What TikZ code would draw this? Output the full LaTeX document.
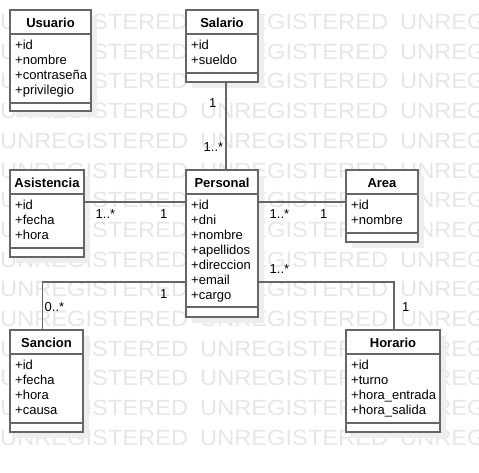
\documentclass[tikz,border=0pt]{standalone}
\usepackage{fontspec}
\setmainfont{Liberation Sans}
\definecolor{wm}{HTML}{E6E6E6}
\definecolor{shd}{HTML}{EEEEEE}
\definecolor{ln}{HTML}{666666}
\tikzset{
  wmark/.style={anchor=base west, inner sep=0pt, text=wm, font=\fontsize{22}{22}\selectfont},
  classbox/.style={draw=ln, line width=1.6pt, fill=white, inner sep=0pt, outer sep=0pt, anchor=north west},
  divider/.style={draw=ln, line width=1.6pt},
  ctitle/.style={anchor=base, inner sep=0pt, font=\fontsize{13}{15}\selectfont\bfseries},
  cattr/.style={anchor=base west, inner sep=0pt, font=\fontsize{13}{15}\selectfont},
  conn/.style={draw=ln, line width=1.6pt},
  mult/.style={anchor=base west, inner sep=0pt, font=\fontsize{13}{15}\selectfont},
}
\newcommand\umlcls[8]{%
  \fill[shd] (#2+6,#3+6) rectangle ++(#4,#5);
  \node[classbox, minimum width=#4pt, minimum height=#5pt] (#1) at (#2,#3) {};
  \draw[divider] (#2,#3+24) -- ++(#4,0);
  \draw[divider] (#2,#3+#6) -- ++(#4,0);
  \node[ctitle] (#1-title) at (#2+#4/2,#3+17) {#7};
  \foreach \a [count=\i] in {#8} \node[cattr] (#1-a\i) at (#2+5,#3+24.5+15*\i) {\a};
}
\begin{document}
\begin{tikzpicture}[x=1pt,y=-1pt]
\useasboundingbox (0,0) rectangle (479,472);
\begin{scope}
  \clip (0,0) rectangle (479,472);
  \foreach \k in {0,...,14}
    \foreach \xx in {0,200,400}
      \node[wmark] (wm-\k-\xx) at (\xx,29.5+29.7*\k) {\scalebox{1.075}[1]{UNREGISTERED}};
\end{scope}

\umlcls{usuario}{10}{10}{81}{101}{93}{Usuario}{+id,+nombre,+contraseña,+privilegio}
\umlcls{salario}{186}{10}{72}{72}{63}{Salario}{+id,+sueldo}
\umlcls{asistencia}{10}{170}{74}{87}{78}{Asistencia}{+id,+fecha,+hora}
\umlcls{personal}{186}{170}{72}{147}{137}{Personal}{+id,+dni,+nombre,+apellidos,+direccion,+email,+cargo}
\umlcls{area}{346}{170}{72}{72}{63}{Area}{+id,+nombre}
\umlcls{sancion}{10}{330}{73}{102}{93}{Sancion}{+id,+fecha,+hora,+causa}
\umlcls{horario}{346}{330}{94}{102}{93}{Horario}{+id,+turno,+hora\_entrada,+hora\_salida}

\coordinate (xs) at (226,0);
\coordinate (ya) at (0,202);
\coordinate (yb) at (0,282);
\coordinate (xsan) at (42.5,0);
\coordinate (xhor) at (394,0);
\draw[conn] (salario.south -| xs) -- (personal.north -| xs);
\draw[conn] (asistencia.east |- ya) -- (personal.west |- ya);
\draw[conn] (personal.east |- ya) -- (area.west |- ya);
\draw[conn] (personal.west |- yb) -| (sancion.north -| xsan);
\draw[conn] (personal.east |- yb) -| (horario.north -| xhor);

\node[mult] (m1) at (209,107.3) {1};
\node[mult] (m2) at (203.5,151.3) {1..*};
\node[mult] (m3) at (95.5,218) {1..*};
\node[mult] (m4) at (160,218) {1};
\node[mult] (m5) at (269.5,218) {1..*};
\node[mult] (m6) at (320,218) {1};
\node[mult] (m7) at (160,298) {1};
\node[mult] (m8) at (44.5,311.3) {0..*};
\node[mult] (m9) at (269.5,273) {1..*};
\node[mult] (m10) at (402,311.3) {1};
\end{tikzpicture}
\end{document}
